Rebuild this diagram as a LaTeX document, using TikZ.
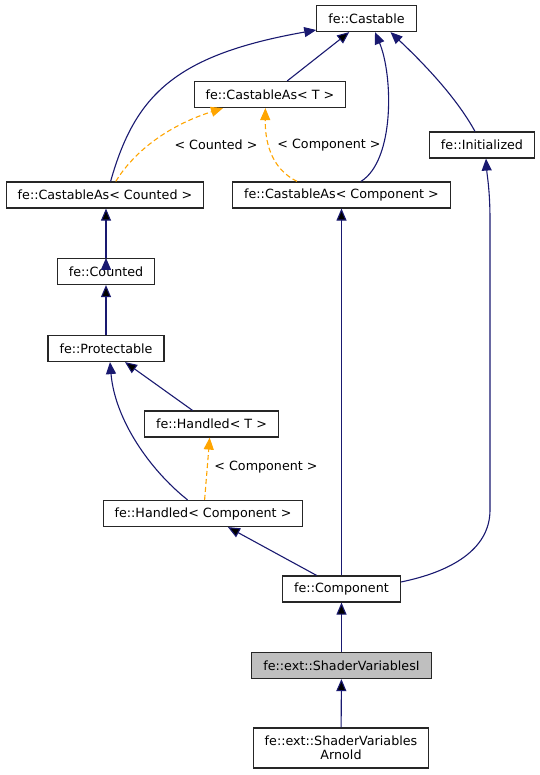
\documentclass[tikz,border=0pt]{standalone}
\usepackage{fontspec}
\setmainfont{DejaVu Sans}
\usepackage{tikz}
\usetikzlibrary{arrows.meta}
\definecolor{inhblue}{HTML}{191970}
\definecolor{tmplorange}{HTML}{FFA500}

\begin{document}
\begin{tikzpicture}[x=1pt,y=-1pt,
		cls/.style={draw=black!85,line width=1.2pt,fill=white,inner xsep=11.5pt,inner ysep=0pt,
			minimum height=26pt,font=\fontsize{12.7}{13.5}\selectfont},
		inh/.style={draw=inhblue,line width=1.1pt,-{Triangle[length=12pt,width=10pt]}},
		tmpl/.style={draw=tmplorange,line width=1.1pt,dash pattern=on 5pt off 3pt,
			-{Triangle[length=12pt,width=10pt]}},
		lbl/.style={font=\fontsize{12.7}{13.5}\selectfont,inner sep=0pt}]
			\useasboundingbox (0,0) rectangle (539,775);
			\node[cls] (cast)    at (366.5,18.5) {fe::Castable};
			\node[cls] (castT)   at (270,94.5)   {fe::CastableAs< T >};
			\node[cls] (init)    at (482,145)    {fe::Initialized};
			\node[cls] (castCnt) at (105,195)    {fe::CastableAs< Counted >};
			\node[cls] (castCmp) at (341.5,195)  {fe::CastableAs< Component >};
			\node[cls] (cnt)     at (106,271.5)  {fe::Counted};
			\node[cls] (prot)    at (106,348.5)  {fe::Protectable};
			\node[cls] (hndT)    at (211.5,424)  {fe::Handled< T >};
			\node[cls] (hndCmp)  at (203,513.5)  {fe::Handled< Component >};
			\node[cls] (cmp)     at (341.5,589)  {fe::Component};
			\node[cls,fill=black!25] (svi) at (341.5,665.5) {fe::ext::ShaderVariablesI};
			\node[cls,align=center,minimum height=40pt] (sva) at (341,748) {fe::ext::ShaderVariables\\Arnold};
			\node[lbl] (lCnt)  at (216,145)   {< Counted >};
			\node[lbl] (lCmp)  at (329,145)   {< Component >};
			\node[lbl] (lHnd)  at (266,467.6) {< Component >};
			\path[inh]
			(castT) edge (cast)
			(cnt.north) edge (cnt.north |- castCnt.south)
			(prot) edge (cnt)
			(hndT) edge (prot)
			(cmp) edge (hndCmp) edge (castCmp)
			(svi) edge (cmp)
			(sva) edge (svi);
			\draw[inh] ([xshift=5.6pt]castCnt.north) .. controls (135,95) and (175,55) .. ([yshift=-11.5pt]cast.west);
			\draw[inh] ([xshift=19.5pt]castCmp.north) .. controls (395,160) and (393,75) .. ([xshift=8.5pt]cast.south);
			\draw[inh] ([xshift=-7pt]init.north) .. controls (455,95) and (420,60) .. ([xshift=24pt]cast.south);
			\draw[inh] ([xshift=-15.4pt]hndCmp.north) .. controls (150,470) and (115,420) .. ([xshift=4pt]prot.south);
			\draw[inh] ([yshift=7pt]cmp.east) .. controls (450,572) and (490,550) .. (490,510)
			-- (490,220) .. controls (490,190) and (487,175) .. ([xshift=4pt]init.south);
			\draw[tmpl] ([xshift=10.8pt]castCnt.north) .. controls (135,150) and (170,125) .. ([xshift=-47pt]castT.south);
			\draw[tmpl] ([xshift=-44.5pt]castCmp.north) .. controls (270,168) and (265,140) .. ([xshift=-4.6pt]castT.south);
			\draw[tmpl] ([xshift=1.6pt]hndCmp.north) -- ([xshift=-1.8pt]hndT.south);
		\end{tikzpicture}
\end{document}
